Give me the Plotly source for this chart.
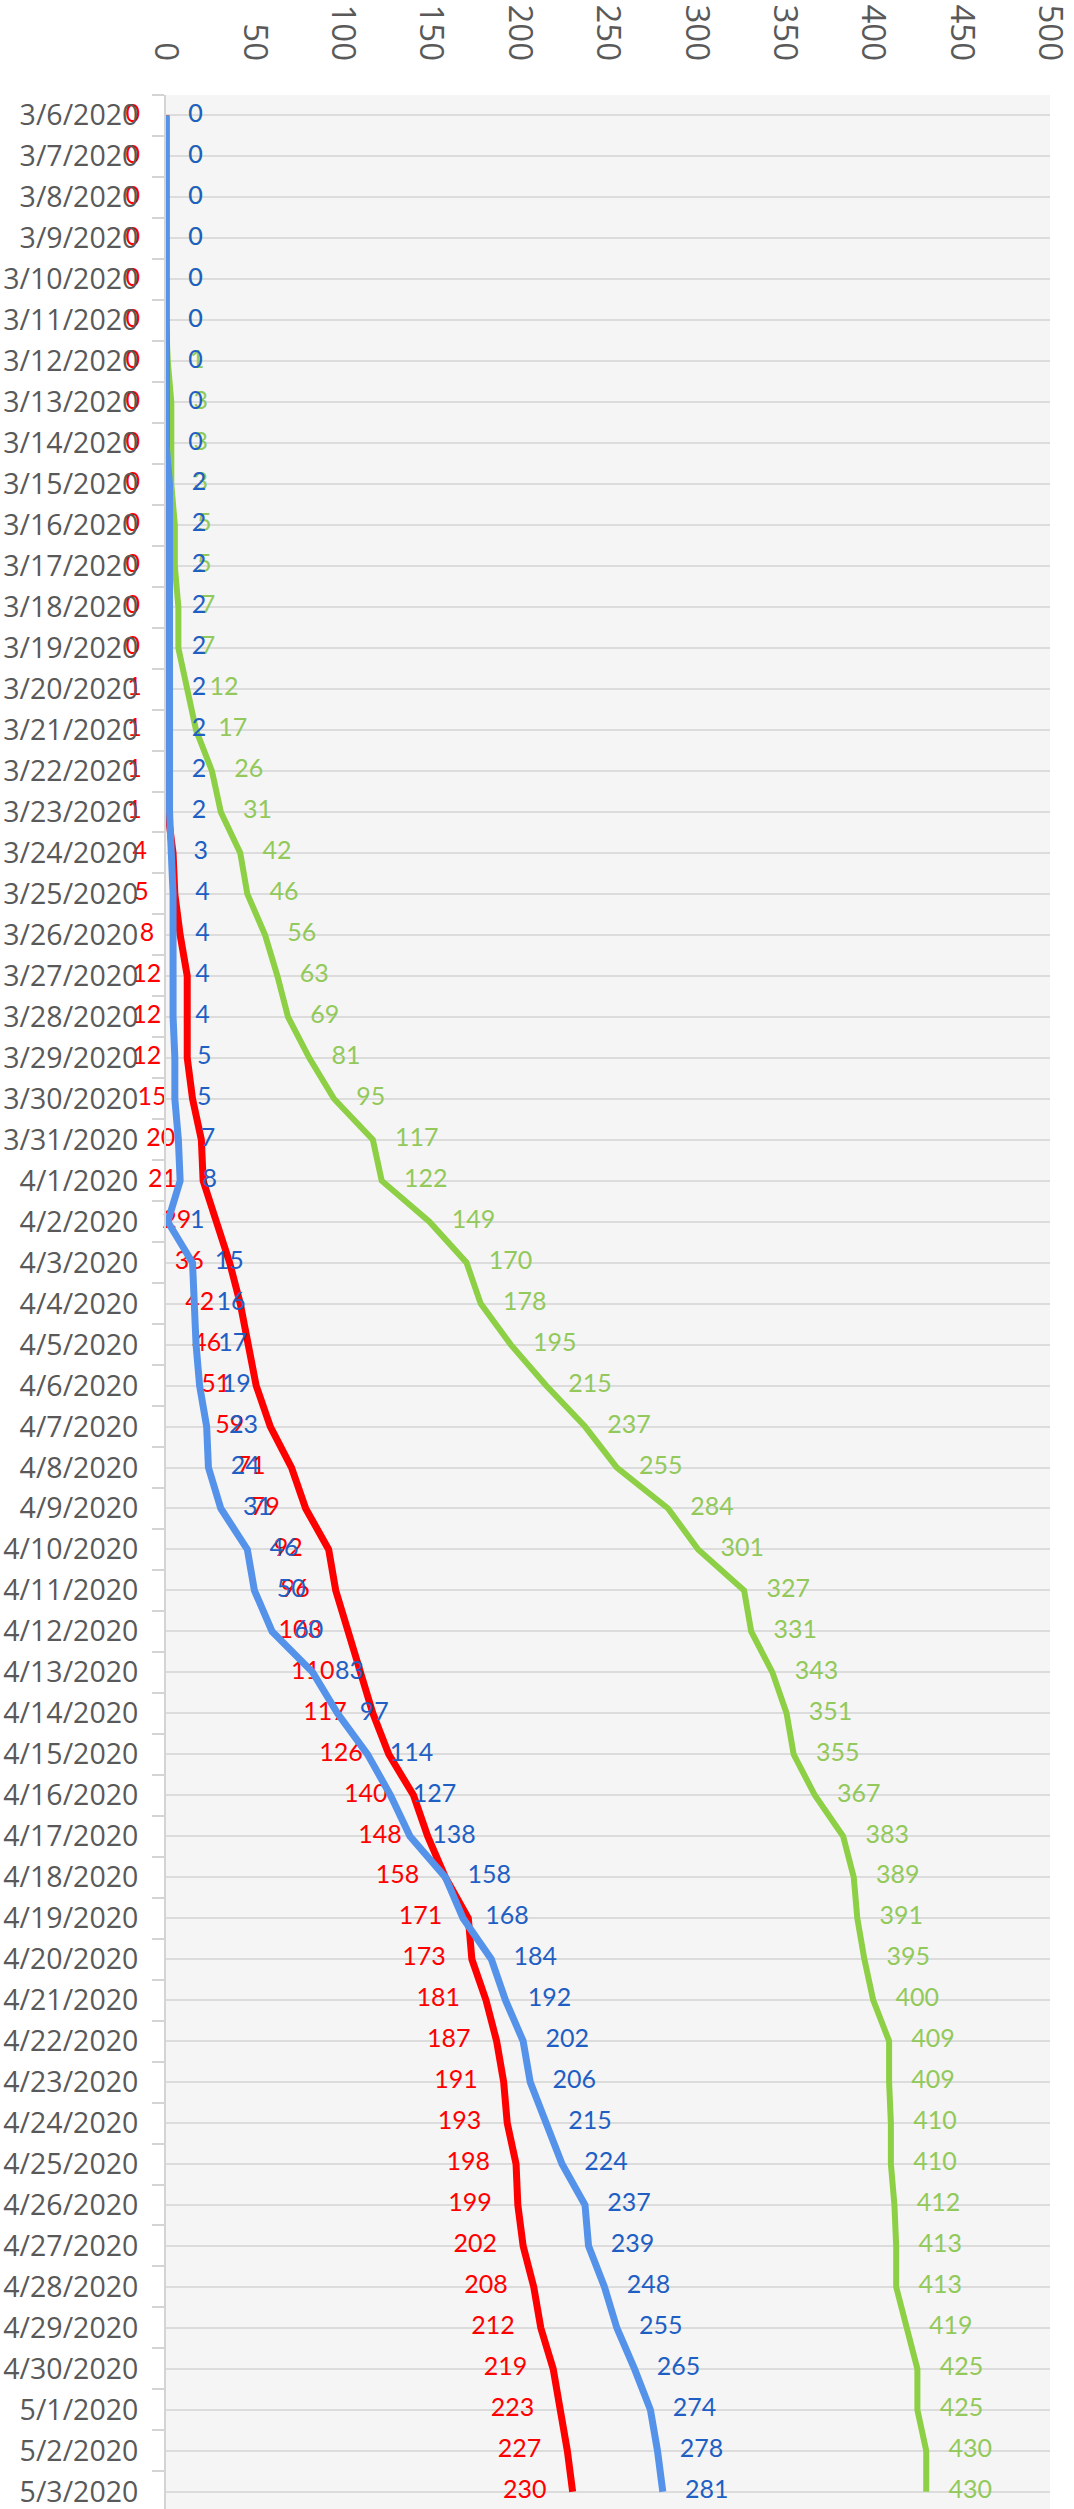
import plotly.graph_objects as go

dates = [
    "3/6/2020", "3/7/2020", "3/8/2020", "3/9/2020", "3/10/2020", "3/11/2020", "3/12/2020",
    "3/13/2020", "3/14/2020", "3/15/2020", "3/16/2020", "3/17/2020", "3/18/2020", "3/19/2020",
    "3/20/2020", "3/21/2020", "3/22/2020", "3/23/2020", "3/24/2020", "3/25/2020", "3/26/2020",
    "3/27/2020", "3/28/2020", "3/29/2020", "3/30/2020", "3/31/2020",
    "4/1/2020", "4/2/2020", "4/3/2020", "4/4/2020", "4/5/2020", "4/6/2020", "4/7/2020",
    "4/8/2020", "4/9/2020", "4/10/2020", "4/11/2020", "4/12/2020", "4/13/2020", "4/14/2020",
    "4/15/2020", "4/16/2020", "4/17/2020", "4/18/2020", "4/19/2020", "4/20/2020", "4/21/2020",
    "4/22/2020", "4/23/2020", "4/24/2020", "4/25/2020", "4/26/2020", "4/27/2020", "4/28/2020",
    "4/29/2020", "4/30/2020", "5/1/2020", "5/2/2020", "5/3/2020",
]

green_values = [
    0, 0, 0, 0, 0, 0, 1, 3, 3, 3, 5, 5, 7, 7, 12, 17, 26, 31, 42, 46, 56, 63, 69, 81, 95, 117,
    122, 149, 170, 178, 195, 215, 237, 255, 284, 301, 327, 331, 343, 351, 355, 367, 383, 389,
    391, 395, 400, 409, 409, 410, 410, 412, 413, 413, 419, 425,
    425, 430, 430,
]

red_values = [
    0, 0, 0, 0, 0, 0, 0, 0, 0, 0, 0, 0, 0, 0, 1, 1, 1, 1, 4, 5, 8, 12, 12, 12, 15, 20,
    21, 29, 36, 42, 46, 51, 59, 71, 79, 92, 96, 103, 110, 117, 126, 140, 148, 158,
    171, 173, 181, 187, 191, 193, 198, 199, 202, 208, 212, 219,
    223, 227, 230,
]

blue_values = [
    0, 0, 0, 0, 0, 0, 0, 0, 0, 2, 2, 2, 2, 2, 2, 2, 2, 2, 3, 4, 4, 4, 4, 5, 5, 7,
    8, 1, 15, 16, 17, 19, 23, 24, 31, 46, 50, 60, 83, 97, 114, 127, 138, 158,
    168, 184, 192, 202, 206, 215, 224, 237, 239, 248, 255, 265,
    274, 278, 281,
]

x_ticks = [0, 50, 100, 150, 200, 250, 300, 350, 400, 450, 500]

positions = list(range(len(dates)))
boundaries = [p - 0.5 for p in positions] + [positions[-1] + 0.5]

LABEL_FONT = "Lato, Carlito, Calibri, sans-serif"

fig = go.Figure()

fig.add_trace(go.Scatter(
    x=green_values, y=positions, mode="lines+markers+text",
    line=dict(color="#8dcf45", width=6),
    marker=dict(size=34, color="rgba(0,0,0,0)"),
    text=[str(v) for v in green_values], textposition="middle right",
    textfont=dict(family=LABEL_FONT, size=25, color="#92c95a"),
    cliponaxis=False, showlegend=False,
))

fig.add_trace(go.Scatter(
    x=red_values, y=positions, mode="lines+markers+text",
    line=dict(color="#ff0000", width=7),
    marker=dict(size=40, color="rgba(0,0,0,0)"),
    text=[str(v) for v in red_values], textposition="middle left",
    textfont=dict(family=LABEL_FONT, size=25, color="#ff0000"),
    cliponaxis=False, showlegend=False,
))

fig.add_trace(go.Scatter(
    x=blue_values, y=positions, mode="lines+markers+text",
    line=dict(color="#5593ea", width=7),
    marker=dict(size=34, color="rgba(0,0,0,0)"),
    text=[str(v) for v in blue_values], textposition="middle right",
    textfont=dict(family=LABEL_FONT, size=25, color="#1f5fc4"),
    cliponaxis=False, showlegend=False,
))

fig.update_layout(
    width=1074, height=2509,
    margin=dict(l=166, r=24, t=95, b=0, pad=0),
    paper_bgcolor="white",
    plot_bgcolor="#f5f5f5",
    font=dict(family="Open Sans, sans-serif", color="#595959"),
    xaxis=dict(
        side="top", range=[0, 500], tickmode="array", tickvals=x_ticks,
        ticktext=[str(t) for t in x_ticks], tickangle=90,
        tickfont=dict(size=33, color="#595959", family="Open Sans, sans-serif"),
        showgrid=False, zeroline=False, showline=False, ticks="",
        ticklabelstandoff=28, ticklabeloverflow="allow", fixedrange=True,
    ),
    yaxis=dict(
        range=[58.42, -0.5], tickmode="array", tickvals=positions, ticktext=dates,
        tickfont=dict(size=28.5, color="#595959", family="Open Sans, sans-serif"),
        showgrid=True, gridcolor="#dcdcdc", gridwidth=2,
        zeroline=False, showline=True, linecolor="#d4d4d4", linewidth=2,
        ticks="", ticklabelstandoff=20, ticklabeloverflow="allow",
        minor=dict(tickmode="array", tickvals=boundaries, ticks="outside",
                   ticklen=12, tickwidth=2, tickcolor="#d4d4d4", showgrid=False),
        fixedrange=True,
    ),
)

fig.write_html("out.html", config={"displayModeBar": False},
               post_script="document.body.style.margin='0';")
